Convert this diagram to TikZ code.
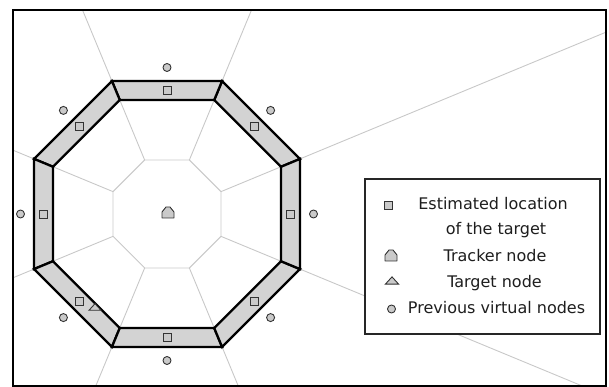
\documentclass[tikz,border=0pt]{standalone}
\usepackage{fontspec}
\setmainfont{DejaVu Sans}
\usetikzlibrary{calc}

\definecolor{cellline}{HTML}{C8C8C8}
\definecolor{ringfill}{HTML}{D3D3D3}
\definecolor{markfill}{HTML}{CACACA}
\definecolor{markline}{HTML}{333333}
\definecolor{txt}{HTML}{1E1E1E}

\tikzset{
  cell/.style={draw=cellline, line width=0.9pt},
  ringpart/.style={draw=black, fill=ringfill, line width=2.3pt, line join=miter},
  framebox/.style={draw=black, line width=2pt},
  legendbox/.style={draw=black!85, fill=white, line width=1.2pt, inner sep=0pt},
  estmark/.style={draw=markline, fill=markfill, line width=0.9pt, rectangle,
    minimum size=8pt, inner sep=0pt},
  prevmark/.style={draw=markline, fill=markfill, line width=0.9pt, circle,
    minimum size=8pt, inner sep=0pt},
  legtext/.style={text=txt, font=\fontsize{16}{19}\selectfont, anchor=base, inner sep=0pt},
  house/.pic={
    \draw[draw=markline, fill=markfill, line width=0.9pt, line join=round]
      (-6,-5.5) -- (6,-5.5) -- (6,0.5) -- (2,5.5) -- (-2,5.5) -- (-6,0.5) -- cycle;
  },
  wedge/.pic={
    \draw[draw=markline, fill=markfill, line width=0.9pt, line join=miter]
      (-6,-3.3) -- (6,-3.3) -- (0,3.3) -- cycle;
  }
}

\begin{document}
\begin{tikzpicture}[x=1pt, y=1pt]
  \useasboundingbox (0,0) rectangle (609,387);

  \coordinate (C) at (167,173);

  % Voronoi cells around the tracker: central octagon and radial borders
  \begin{scope}
    \clip (13,1) rectangle (606,377);
    \draw[cell] ($(C)+(22.5:58.45)$)
      \foreach \k in {1,...,7} { -- ($(C)+(22.5+45*\k:58.45)$) } -- cycle;
    \foreach \k in {0,...,7} {
      \draw[cell] ($(C)+(22.5+45*\k:58.45)$) -- ($(C)+(22.5+45*\k:700)$);
    }
  \end{scope}

  % legend frame (covers the cell borders behind it)
  \node[legendbox, minimum width=235pt, minimum height=155pt] (legend) at (482.5,130.5) {};

  % ring of eight segments
  \foreach \k in {0,...,7} {
    \pgfmathsetmacro\aa{22.5+45*\k}
    \pgfmathsetmacro\bb{67.5+45*\k}
    \draw[ringpart] ($(C)+(\aa:123.39)$) -- ($(C)+(\aa:143.96)$)
      -- ($(C)+(\bb:143.96)$) -- ($(C)+(\bb:123.39)$) -- cycle;
  }

  % estimated locations and previous virtual nodes
  \foreach \k in {0,...,7} {
    \node[estmark] (est\k) at ($(C)+(45*\k:123.5)$) {};
    \node[prevmark] (prev\k) at ($(C)+(45*\k:146.5)$) {};
  }

  % tracker node and target node
  \coordinate (tracker) at (168,174.5);
  \pic at (tracker) {house};
  \coordinate (target) at (95,80);
  \pic at (target) {wedge};

  % outer frame
  \draw[framebox] (13,1) rectangle (606,377);

  % legend entries
  \node[estmark] (legEst) at (388,182) {};
  \node[legtext] (tEst) at (493,177) {Estimated location};
  \node[legtext] (tEst2) at (496,152) {of the target};
  \coordinate (legTracker) at (391,131.5);
  \pic at (legTracker) {house};
  \node[legtext] (tTracker) at (495,125) {Tracker node};
  \coordinate (legTarget) at (392,106.5);
  \pic[scale=1.1] at (legTarget) {wedge};
  \node[legtext] (tTarget) at (494.5,99) {Target node};
  \node[prevmark] (legPrev) at (391.5,78) {};
  \node[legtext] (tPrev) at (496.5,73) {Previous virtual nodes};
\end{tikzpicture}
\end{document}
